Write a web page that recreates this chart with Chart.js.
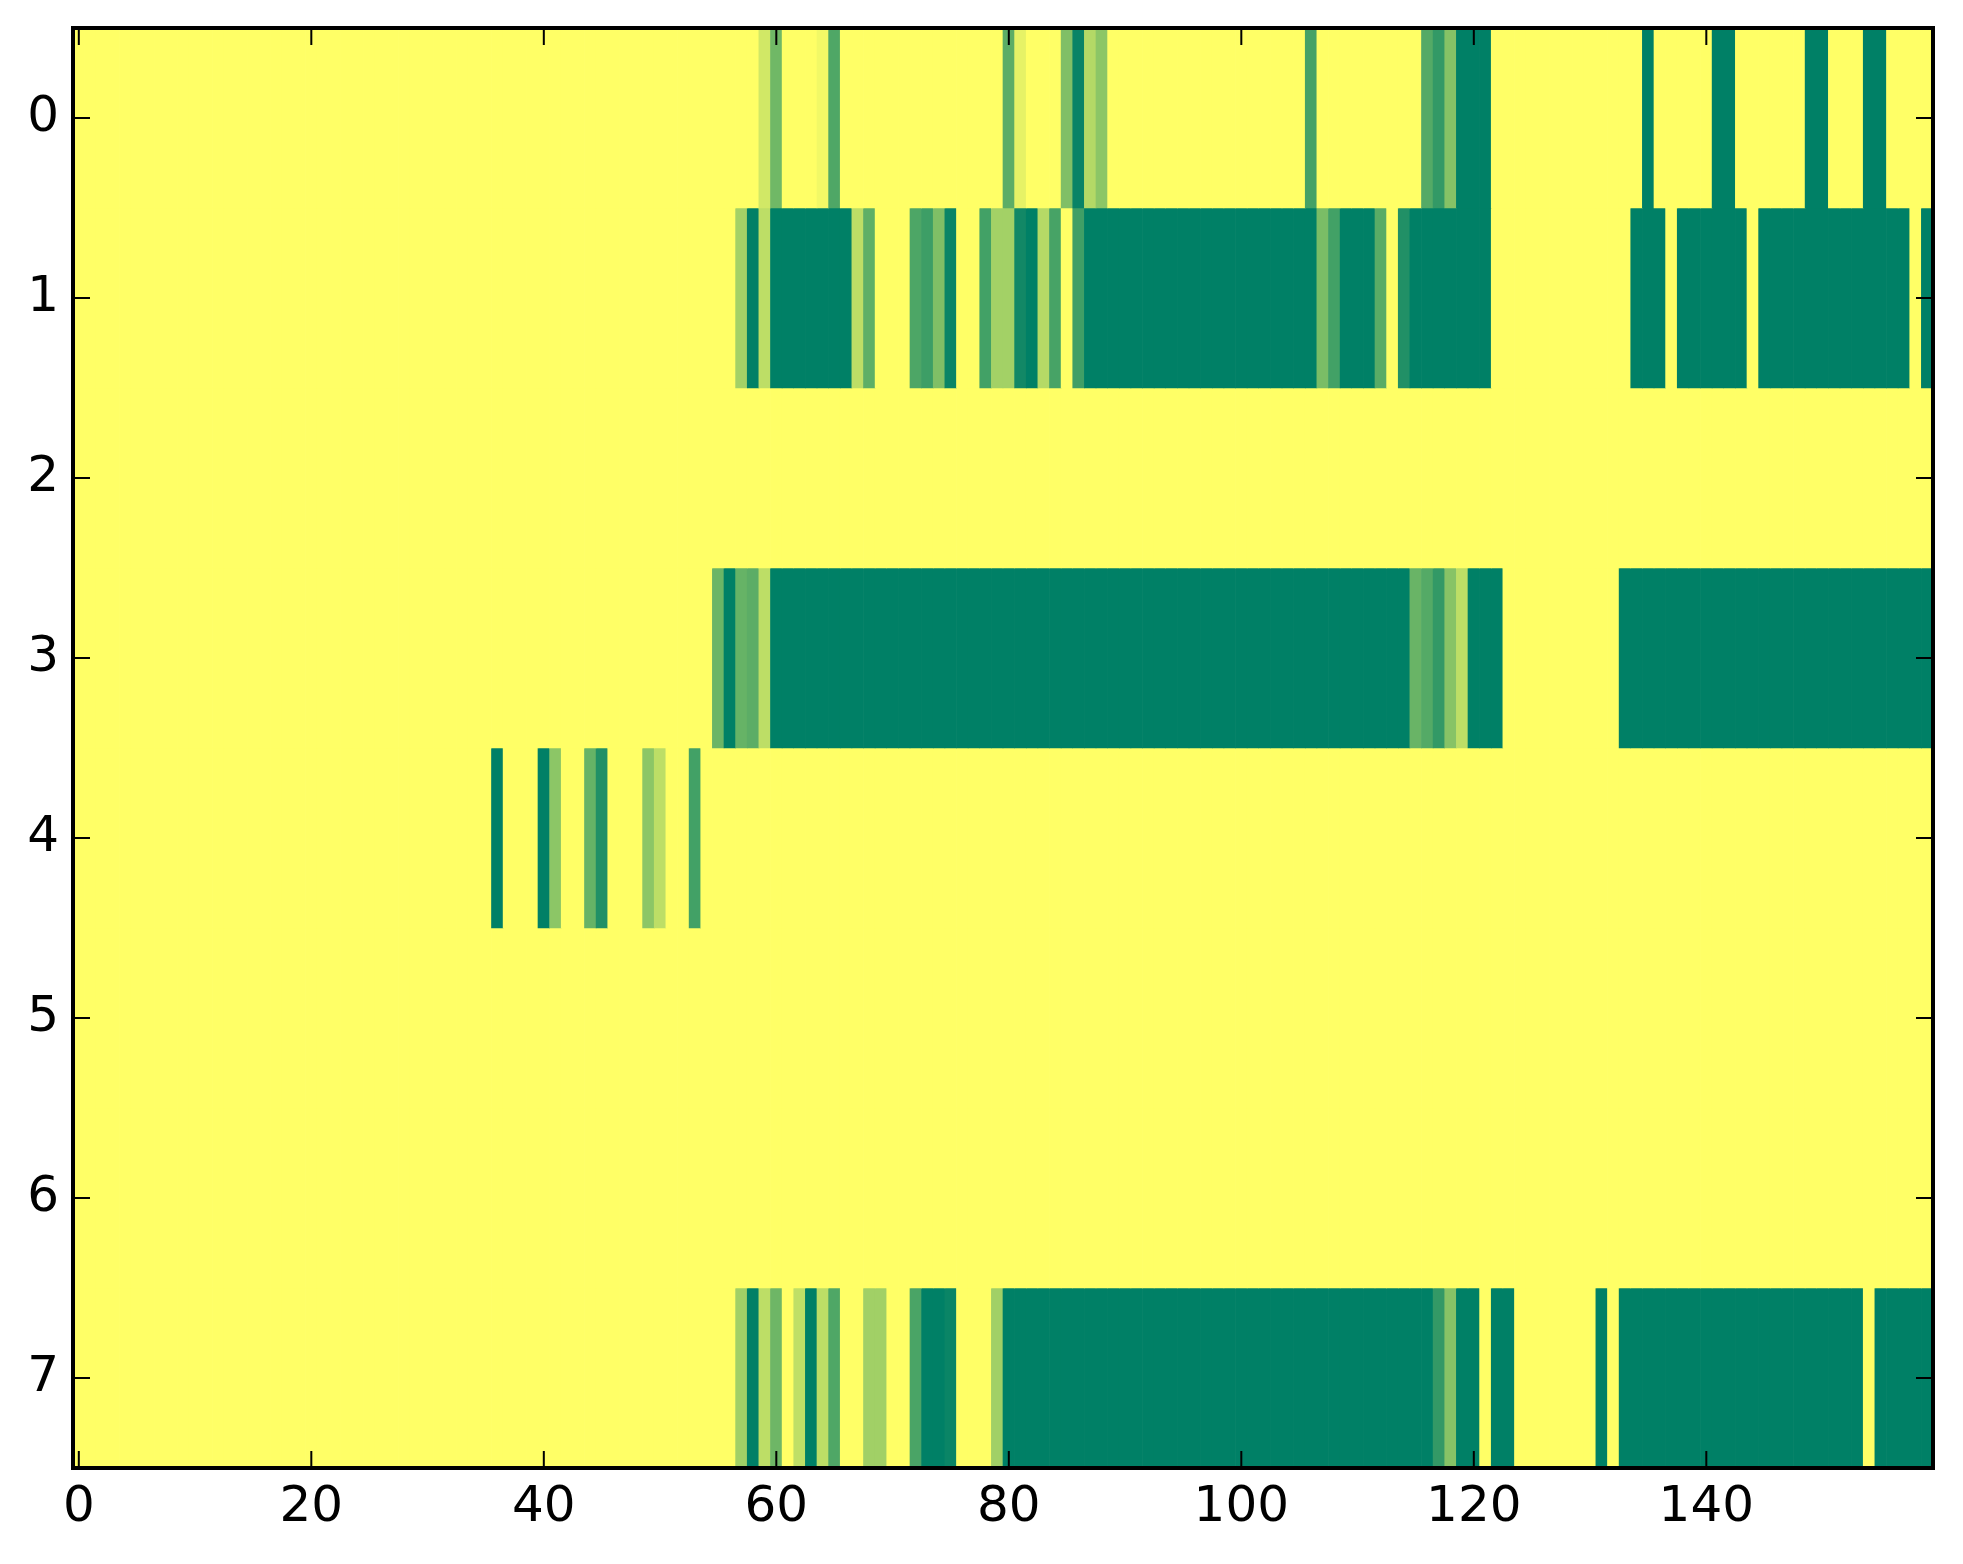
<!DOCTYPE html>
<html>
<head>
<meta charset="utf-8">
<script src="https://cdn.jsdelivr.net/npm/chart.js@4.4.1/dist/chart.umd.min.js"></script>
<style>
html, body { margin: 0; padding: 0; background: #fff; }
#wrap { width: 1963px; height: 1564px; position: relative; }
</style>
</head>
<body>
<div id="wrap"><canvas id="chart"></canvas></div>
<script>
const rowLabels = ['0', '1', '2', '3', '4', '5', '6', '7'];
const xTickValues = [0, 20, 40, 60, 80, 100, 120, 140];

// one array per image row, 160 columns each (0 = yellow, 1 = dark green)
const row0 = [
  0,0,0,0,0,0,0,0,0,0,0,0,0,0,0,0,0,0,0,0,
  0,0,0,0,0,0,0,0,0,0,0,0,0,0,0,0,0,0,0,0,
  0,0,0,0,0,0,0,0,0,0,0,0,0,0,0,0,0,0,0,.18,
  .56,0,0,0,.05,.69,0,0,0,0,0,0,0,0,0,0,0,0,0,0,
  .64,.1,0,0,0,.5,.97,.3,.45,0,0,0,0,0,0,0,0,0,0,0,
  0,0,0,0,0,0,.73,0,0,0,0,0,0,0,0,0,.67,.8,.48,1,
  1,1,0,0,0,0,0,0,0,0,0,0,0,0,0,1,0,0,0,0,
  0,1,1,0,0,0,0,0,0,1,1,0,0,0,1,1,0,0,0,0
];
const row1 = [
  0,0,0,0,0,0,0,0,0,0,0,0,0,0,0,0,0,0,0,0,
  0,0,0,0,0,0,0,0,0,0,0,0,0,0,0,0,0,0,0,0,
  0,0,0,0,0,0,0,0,0,0,0,0,0,0,0,0,0,.36,1,.26,
  1,1,1,1,1,1,1,.26,.63,0,0,0,.7,.76,.5,.96,0,0,.74,.36,
  .36,.93,1,.29,.72,0,.75,1,1,1,1,1,1,1,1,1,1,1,1,1,
  1,1,1,1,1,1,1,.52,.74,1,1,1,.65,0,.87,1,1,1,1,1,
  1,1,0,0,0,0,0,0,0,0,0,0,0,0,1,1,1,0,1,1,
  1,1,1,1,0,1,1,1,1,1,1,1,1,1,1,1,1,1,0,1
];
const row2 = [
  0,0,0,0,0,0,0,0,0,0,0,0,0,0,0,0,0,0,0,0,
  0,0,0,0,0,0,0,0,0,0,0,0,0,0,0,0,0,0,0,0,
  0,0,0,0,0,0,0,0,0,0,0,0,0,0,0,0,0,0,0,0,
  0,0,0,0,0,0,0,0,0,0,0,0,0,0,0,0,0,0,0,0,
  0,0,0,0,0,0,0,0,0,0,0,0,0,0,0,0,0,0,0,0,
  0,0,0,0,0,0,0,0,0,0,0,0,0,0,0,0,0,0,0,0,
  0,0,0,0,0,0,0,0,0,0,0,0,0,0,0,0,0,0,0,0,
  0,0,0,0,0,0,0,0,0,0,0,0,0,0,0,0,0,0,0,0
];
const row3 = [
  0,0,0,0,0,0,0,0,0,0,0,0,0,0,0,0,0,0,0,0,
  0,0,0,0,0,0,0,0,0,0,0,0,0,0,0,0,0,0,0,0,
  0,0,0,0,0,0,0,0,0,0,0,0,0,0,0,.58,1,.6,.64,.26,
  1,1,1,1,1,1,1,1,1,1,1,1,1,1,1,1,1,1,1,1,
  1,1,1,1,1,1,1,1,1,1,1,1,1,1,1,1,1,1,1,1,
  1,1,1,1,1,1,1,1,1,1,1,1,1,1,1,.59,.67,.8,.47,.26,
  1,1,1,0,0,0,0,0,0,0,0,0,0,1,1,1,1,1,1,1,
  1,1,1,1,1,1,1,1,1,1,1,1,1,1,1,1,1,1,1,1
];
const row4 = [
  0,0,0,0,0,0,0,0,0,0,0,0,0,0,0,0,0,0,0,0,
  0,0,0,0,0,0,0,0,0,0,0,0,0,0,0,0,1,0,0,0,
  1,.45,0,0,.6,.87,0,0,0,.45,.26,0,0,.74,0,0,0,0,0,0,
  0,0,0,0,0,0,0,0,0,0,0,0,0,0,0,0,0,0,0,0,
  0,0,0,0,0,0,0,0,0,0,0,0,0,0,0,0,0,0,0,0,
  0,0,0,0,0,0,0,0,0,0,0,0,0,0,0,0,0,0,0,0,
  0,0,0,0,0,0,0,0,0,0,0,0,0,0,0,0,0,0,0,0,
  0,0,0,0,0,0,0,0,0,0,0,0,0,0,0,0,0,0,0,0
];
const row5 = [
  0,0,0,0,0,0,0,0,0,0,0,0,0,0,0,0,0,0,0,0,
  0,0,0,0,0,0,0,0,0,0,0,0,0,0,0,0,0,0,0,0,
  0,0,0,0,0,0,0,0,0,0,0,0,0,0,0,0,0,0,0,0,
  0,0,0,0,0,0,0,0,0,0,0,0,0,0,0,0,0,0,0,0,
  0,0,0,0,0,0,0,0,0,0,0,0,0,0,0,0,0,0,0,0,
  0,0,0,0,0,0,0,0,0,0,0,0,0,0,0,0,0,0,0,0,
  0,0,0,0,0,0,0,0,0,0,0,0,0,0,0,0,0,0,0,0,
  0,0,0,0,0,0,0,0,0,0,0,0,0,0,0,0,0,0,0,0
];
const row6 = [
  0,0,0,0,0,0,0,0,0,0,0,0,0,0,0,0,0,0,0,0,
  0,0,0,0,0,0,0,0,0,0,0,0,0,0,0,0,0,0,0,0,
  0,0,0,0,0,0,0,0,0,0,0,0,0,0,0,0,0,0,0,0,
  0,0,0,0,0,0,0,0,0,0,0,0,0,0,0,0,0,0,0,0,
  0,0,0,0,0,0,0,0,0,0,0,0,0,0,0,0,0,0,0,0,
  0,0,0,0,0,0,0,0,0,0,0,0,0,0,0,0,0,0,0,0,
  0,0,0,0,0,0,0,0,0,0,0,0,0,0,0,0,0,0,0,0,
  0,0,0,0,0,0,0,0,0,0,0,0,0,0,0,0,0,0,0,0
];
const row7 = [
  0,0,0,0,0,0,0,0,0,0,0,0,0,0,0,0,0,0,0,0,
  0,0,0,0,0,0,0,0,0,0,0,0,0,0,0,0,0,0,0,0,
  0,0,0,0,0,0,0,0,0,0,0,0,0,0,0,0,0,.37,1,.26,
  .57,0,.25,1,.26,.69,0,0,.37,.37,0,0,.71,1,1,.96,0,0,0,.37,
  1,1,1,1,1,1,1,1,1,1,1,1,1,1,1,1,1,1,1,1,
  1,1,1,1,1,1,1,1,1,1,1,1,1,1,1,1,1,.8,.47,1,
  1,0,1,1,0,0,0,0,0,0,0,1,0,1,1,1,1,1,1,1,
  1,1,1,1,1,1,1,1,1,1,1,1,1,1,0,1,1,1,1,1
];
const rows = [row0, row1, row2, row3, row4, row5, row6, row7];

// summer_r colormap
const summerR = (v) => {
  const r = Math.round(255 * (1 - v));
  const g = Math.round(255 * (1 - v / 2));
  return `rgb(${r},${g},102)`;
};

const datasets = rows.map((vals, r) => ({
  data: vals.map((v, c) => ({ x: [c - 0.5, c + 0.5], y: rowLabels[r] })),
  backgroundColor: vals.map(v => summerR(v)),
  borderWidth: 0,
  barPercentage: 1,
  categoryPercentage: 1,
  grouped: false,
  inflateAmount: 'auto'
}));

const tickFont = { family: 'DejaVu Sans', size: 50 };

// inward ticks on all four sides and the black frame
const frame = {
  id: 'frame',
  afterDraw(chart) {
    const { ctx, chartArea: a, scales: { x, y } } = chart;
    ctx.save();
    ctx.strokeStyle = '#000';
    ctx.lineWidth = 2;
    ctx.beginPath();
    x.ticks.forEach(t => {
      const px = x.getPixelForValue(t.value);
      ctx.moveTo(px, a.bottom); ctx.lineTo(px, a.bottom - 17);
      ctx.moveTo(px, a.top); ctx.lineTo(px, a.top + 17);
    });
    y.ticks.forEach((t, i) => {
      const py = y.getPixelForTick(i);
      ctx.moveTo(a.left, py); ctx.lineTo(a.left + 17, py);
      ctx.moveTo(a.right, py); ctx.lineTo(a.right - 17, py);
    });
    ctx.stroke();
    ctx.lineWidth = 4;
    ctx.strokeRect(a.left, a.top, a.right - a.left, a.bottom - a.top);
    ctx.restore();
  }
};

new Chart(document.getElementById('chart'), {
  type: 'bar',
  data: { labels: rowLabels, datasets: datasets },
  options: {
    indexAxis: 'y',
    responsive: true,
    maintainAspectRatio: false,
    animation: false,
    devicePixelRatio: 1,
    layout: { padding: { left: 0, right: 30, top: 28, bottom: 0 } },
    plugins: { legend: { display: false }, tooltip: { enabled: false } },
    scales: {
      x: {
        type: 'linear',
        position: 'bottom',
        min: -0.5,
        max: 159.5,
        afterBuildTicks: s => { s.ticks = xTickValues.map(v => ({ value: v })); },
        afterFit: s => { s.height = 96; },
        grid: { display: false, drawTicks: false },
        border: { display: false },
        ticks: { color: '#000', font: tickFont, padding: 10, maxRotation: 0, autoSkip: false }
      },
      y: {
        type: 'category',
        labels: rowLabels,
        offset: true,
        afterFit: s => { s.width = 73; s.paddingTop = 0; s.paddingBottom = 0; },
        grid: { display: false, drawTicks: false, offset: false },
        border: { display: false },
        ticks: { color: '#000', font: tickFont, padding: 14 }
      }
    }
  },
  plugins: [frame]
});
</script>
</body>
</html>
